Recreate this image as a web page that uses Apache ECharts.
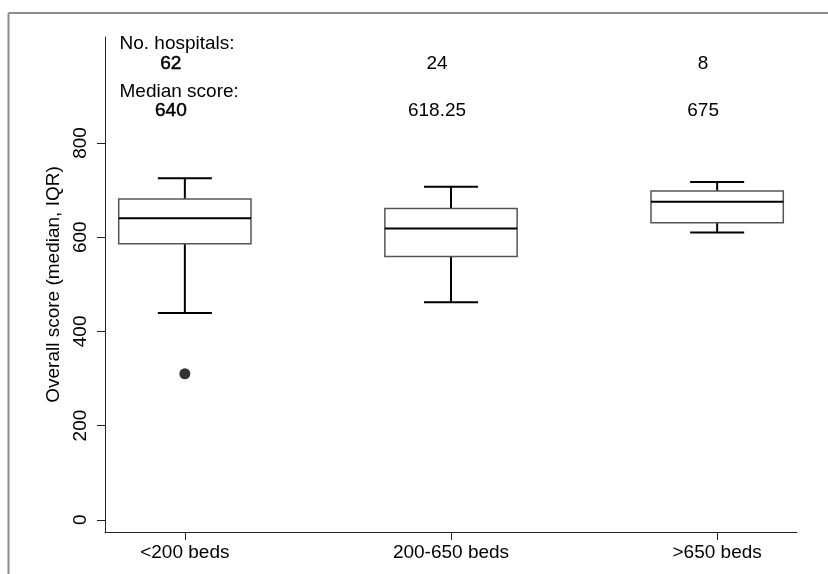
<!DOCTYPE html>
<html><head><meta charset="utf-8">
<script src="https://cdn.jsdelivr.net/npm/echarts@6/dist/echarts.min.js"></script>
<style>html,body{margin:0;padding:0;background:#fff}#c{width:828px;height:574px}</style>
</head><body><div id="c"></div>
<script>
const categories = ['<200 beds', '200-650 beds', '>650 beds'];
const hospitalCounts = ['62', '24', '8'];
const medianLabels = ['640', '618.25', '675'];
const lowerWhisker = [439, 462, 610];
const q1 = [586, 559, 630.5];
const median = [640, 618.25, 675];
const q3 = [681, 661, 698];
const upperWhisker = [725, 707, 717];
const outliers = [[1, 310]];
const yTicks = [0, 200, 400, 600, 800];
const xTicks = [1, 2, 3];
const FONT = '"Liberation Sans", Arial, Helvetica, sans-serif';

const chart = echarts.init(document.getElementById('c'), null, {renderer: 'canvas'});
const boxData = categories.map((c, i) => [i + 1, lowerWhisker[i], q1[i], median[i], q3[i], upperWhisker[i]]);

function renderBox(params, api) {
  const x = api.value(0);
  const lo = api.coord([x, api.value(1)]);
  const b1 = api.coord([x, api.value(2)]);
  const md = api.coord([x, api.value(3)]);
  const b3 = api.coord([x, api.value(4)]);
  const hi = api.coord([x, api.value(5)]);
  const unit = api.size([1, 0])[0];
  const bw = unit * 0.497, cw = unit * 0.203;
  const cx = lo[0];
  const blk = {stroke: '#000', lineWidth: 2};
  return {type: 'group', children: [
    {type: 'line', shape: {x1: cx, y1: hi[1], x2: cx, y2: b3[1]}, style: blk},
    {type: 'line', shape: {x1: cx, y1: b1[1], x2: cx, y2: lo[1]}, style: blk},
    {type: 'line', shape: {x1: cx - cw / 2, y1: hi[1], x2: cx + cw / 2, y2: hi[1]}, style: blk},
    {type: 'line', shape: {x1: cx - cw / 2, y1: lo[1], x2: cx + cw / 2, y2: lo[1]}, style: blk},
    {type: 'rect', shape: {x: cx - bw / 2, y: b3[1], width: bw, height: b1[1] - b3[1]}, style: {fill: '#fff', stroke: '#555', lineWidth: 1.5}},
    {type: 'line', shape: {x1: cx - bw / 2, y1: md[1], x2: cx + bw / 2, y2: md[1]}, style: blk}
  ]};
}

const axisLineStyle = {color: '#222', width: 1};
chart.setOption({
  animation: false,
  backgroundColor: '#fff',
  grid: {left: 105, top: 37, width: 692, height: 495, containLabel: false},
  xAxis: {
    type: 'value', min: 0.7, max: 3.3,
    axisLine: {show: true, onZero: false, lineStyle: axisLineStyle},
    axisTick: {show: true, customValues: xTicks, length: 8, lineStyle: axisLineStyle},
    axisLabel: {customValues: xTicks, formatter: v => categories[Math.round(v) - 1], fontSize: 19, fontFamily: FONT, color: '#000', margin: 11},
    splitLine: {show: false}
  },
  yAxis: {
    type: 'value', min: -26, max: 1025,
    name: 'Overall score (median, IQR)', nameLocation: 'middle', nameGap: 38.5, nameRotate: 90,
    nameTextStyle: {fontSize: 19, fontFamily: FONT, color: '#000'},
    axisLine: {show: true, onZero: false, lineStyle: axisLineStyle},
    axisTick: {show: true, customValues: yTicks, length: 8, lineStyle: axisLineStyle},
    axisLabel: {customValues: yTicks, rotate: 90, fontSize: 19, fontFamily: FONT, color: '#000', margin: 15},
    splitLine: {show: false}
  },
  series: [
    {type: 'custom', renderItem: renderBox, data: boxData, encode: {x: 0, y: [1, 2, 3, 4, 5]}, z: 3},
    {type: 'scatter', data: outliers, symbol: 'circle', symbolSize: 11, itemStyle: {color: '#000'}, z: 4}
  ]
});

const txt = (text, x, y, align, bold) => ({
  type: 'text', x: x, y: y,
  style: {text: text, fill: '#000', font: '19px ' + FONT, textAlign: align, textVerticalAlign: 'middle',
    stroke: bold ? '#000' : null, lineWidth: bold ? 0.5 : 0}
});
const g = [
  {type: 'line', shape: {x1: 8.5, y1: 13, x2: 830, y2: 13}, style: {stroke: '#8c8c8c', lineWidth: 2}},
  {type: 'line', shape: {x1: 8.5, y1: 13, x2: 8.5, y2: 580}, style: {stroke: '#8c8c8c', lineWidth: 2}},
  txt('No. hospitals:', 119.5, 44, 'left', false),
  txt('Median score:', 119.5, 91.7, 'left', false)
];
categories.forEach((c, i) => {
  const px = chart.convertToPixel({xAxisIndex: 0}, i + 1) - 14;
  g.push(txt(hospitalCounts[i], px, 63.5, 'center', i === 0));
  g.push(txt(medianLabels[i], px, 110.5, 'center', i === 0));
});
chart.setOption({graphic: g});
</script>
</body></html>
